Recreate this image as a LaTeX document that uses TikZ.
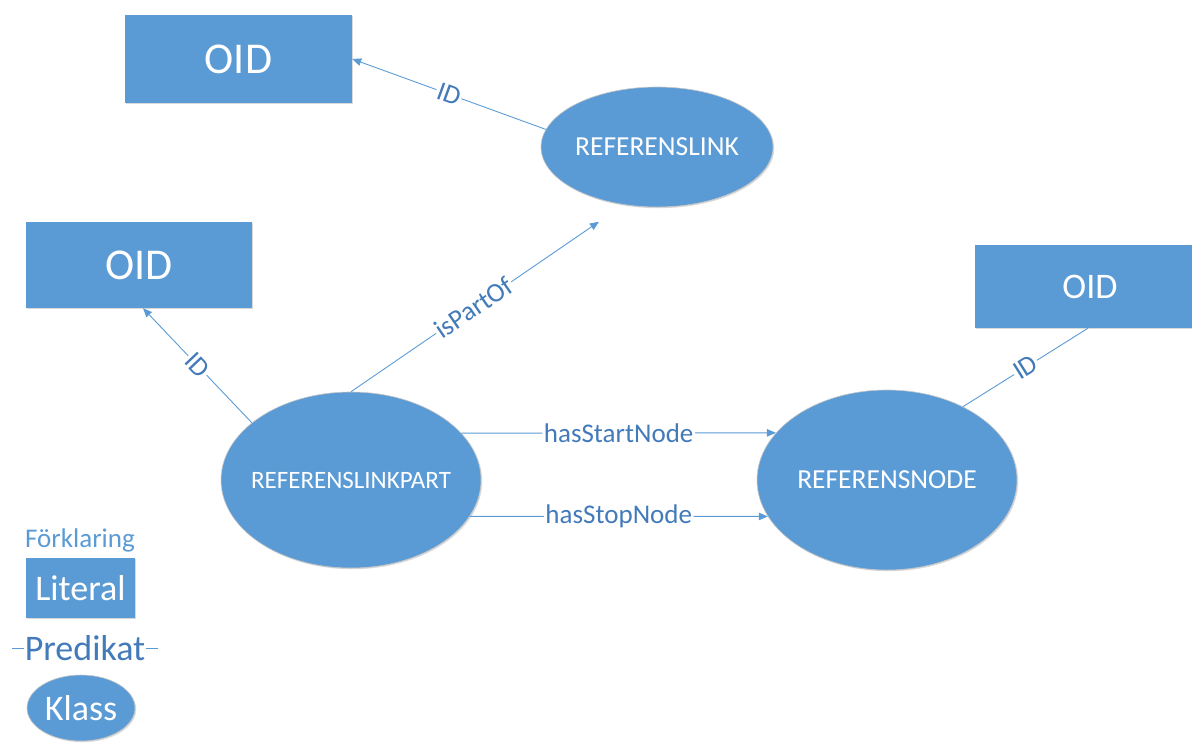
\documentclass[tikz,border=0pt]{standalone}
\usepackage{fontspec}
\setmainfont{Carlito}
\usetikzlibrary{arrows.meta,shapes.geometric,shadows}
\definecolor{office}{RGB}{91,155,213}
\definecolor{labeltext}{RGB}{66,122,186}
\newcommand{\fs}[1]{\fontsize{#1}{#1}\selectfont}
\tikzset{
  shade/.style={drop shadow={shadow xshift=1.2pt,shadow yshift=-1.2pt,opacity=0.25,fill=black!60}},
  literal/.style={rectangle,fill=office,text=white,inner sep=0pt,shade},
  klass/.style={ellipse,fill=office,draw=black!22,line width=0.6pt,text=white,inner sep=0pt,shade},
  pred/.style={draw=office,line width=0.9pt},
  predarrow/.style={pred,-{Triangle[length=9pt,width=7.5pt]}},
  plabel/.style={midway,sloped,fill=white,inner sep=1.5pt,text=labeltext,font=\fs{27}}
}
\begin{document}
\begin{tikzpicture}[x=1pt,y=-1pt]
\useasboundingbox (0,0) rectangle (1192,742);

% literal nodes
\node[literal,minimum width=227pt,minimum height=88pt,font=\fs{44}] (oid1) at (238.5,59) {OID};
\node[literal,minimum width=226pt,minimum height=86pt,font=\fs{44}] (oid2) at (139,265) {OID};
\node[literal,minimum width=230pt,minimum height=83pt,font=\fs{36}] (oid3) at (1090,286.5) {OID};

% class nodes (text in zero-width boxes so the ellipse keeps its own size)
\node[klass,minimum width=232pt,minimum height=120pt,font=\fs{27.5}] (rl) at (657,147) {\makebox[0pt]{REFERENSLINK}};
\node[klass,minimum width=260pt,minimum height=176pt,font=\fs{25}] (lp) at (351,480) {\makebox[0pt]{REFERENSLINKPART}};
\node[klass,minimum width=260pt,minimum height=180pt,font=\fs{27.5}] (rn) at (887,480) {\makebox[0pt]{REFERENSNODE}};

% predicates
\draw[predarrow] (rl.171) -- (oid1.east) node[plabel]{ID};
\draw[predarrow] (lp.150) -- ([xshift=4pt]oid2.south) node[plabel]{ID};
\draw[predarrow,shorten >=30pt] (lp.north) -- (rl.240) node[plabel,pos=0.45]{isPartOf};
\draw[pred] ([xshift=-2pt]oid3.south) -- (rn.44) node[plabel]{ID};
\draw[predarrow] (lp.23) -- (rn.157) node[plabel]{hasStartNode};
\draw[predarrow] (lp.343) -- (rn.197) node[plabel]{hasStopNode};

% legend
\node[text=office,font=\fs{27},inner sep=0pt] (legend) at (80,540) {Förklaring};
\node[literal,minimum width=109pt,minimum height=60pt,font=\fs{36}] (litkey) at (80.5,588) {Literal};
\coordinate (pa) at (12,648);
\coordinate (pb) at (158,648);
\draw[pred] (pa) -- (pb) node[midway,fill=white,inner sep=1pt,text=labeltext,font=\fs{36}]{Predikat};
\node[klass,minimum width=108pt,minimum height=66pt,font=\fs{36}] (klasskey) at (81,708) {\makebox[0pt]{Klass}};
\end{tikzpicture}
\end{document}
